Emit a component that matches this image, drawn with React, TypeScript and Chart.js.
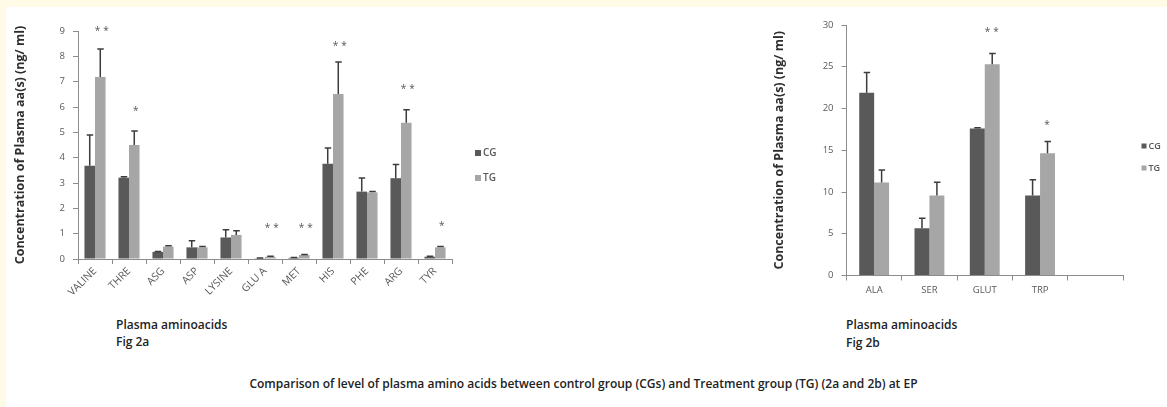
import React, { useEffect, useRef } from "react";
import { Chart, registerables } from "chart.js";

Chart.register(...registerables);

// ---------- DATA ----------
const seriesNames = ["CG", "TG"];

// Fig 2a
const leftCategories = ["VALINE", "THRE", "ASG", "ASP", "LYSINE", "GLU A", "MET", "HIS", "PHE", "ARG", "TYR"];
const leftCG = [3.68, 3.21, 0.28, 0.46, 0.85, 0.03, 0.05, 3.76, 2.66, 3.19, 0.09];
const leftCGsd = [1.21, 0.04, 0.02, 0.26, 0.3, 0.01, 0.01, 0.62, 0.54, 0.54, 0.02];
const leftTG = [7.18, 4.5, 0.49, 0.46, 0.95, 0.09, 0.16, 6.51, 2.63, 5.38, 0.46];
const leftTGsd = [1.11, 0.55, 0.03, 0.03, 0.17, 0.02, 0.02, 1.27, 0.03, 0.51, 0.03];
const leftStars = ["**", "*", "", "", "", "**", "**", "**", "", "**", "*"];
const leftStarLevels = [9.13, 5.95, null, null, null, 1.32, 1.32, 8.53, null, 6.84, 1.42];
const leftYMax = 9;
const leftYStep = 1;

// Fig 2b
const rightCategories = ["ALA", "SER", "GLUT", "TRP", ""];
const rightCG = [21.9, 5.66, 17.6, 9.57, null];
const rightCGsd = [2.4, 1.2, 0.1, 1.9, null];
const rightTG = [11.13, 9.57, 25.3, 14.64, null];
const rightTGsd = [1.5, 1.6, 1.3, 1.4, null];
const rightStars = ["", "", "**", "*", ""];
const rightStarLevels = [null, null, 29.5, 18.35, null];
const rightYMax = 30;
const rightYStep = 5;

const yTitle = "Concentration of Plasma aa(s) (ng/ ml)";
const xTitle = "Plasma aminoacids";
const leftFig = "Fig 2a";
const rightFig = "Fig 2b";
const caption =
  "Comparison of level of plasma amino acids between control group (CGs) and Treatment group (TG) (2a and 2b) at EP";

// ---------- STYLE ----------
const FONT = "'Open Sans', 'DejaVu Sans', sans-serif";
const CG_COLOR = "#595959";
const TG_COLOR = "#a6a6a6";
const AXIS_COLOR = "#8c8c8c";
const TEXT_COLOR = "#595959";

const errorBarsPlugin = {
  id: "errorBars",
  afterDatasetsDraw(chart: any) {
    const ctx = chart.ctx;
    const y = chart.scales.y;
    chart.data.datasets.forEach((ds: any, i: number) => {
      const meta = chart.getDatasetMeta(i);
      meta.data.forEach((el: any, j: number) => {
        const v = ds.data[j];
        const e = ds.errors ? ds.errors[j] : null;
        if (v == null || e == null) return;
        const yTop = y.getPixelForValue(v + e);
        const yBase = y.getPixelForValue(v);
        ctx.save();
        ctx.strokeStyle = "#3c3c3c";
        ctx.lineWidth = 1.5;
        ctx.beginPath();
        ctx.moveTo(el.x, yBase);
        ctx.lineTo(el.x, yTop);
        ctx.moveTo(el.x - 3, yTop);
        ctx.lineTo(el.x + 3.5, yTop);
        ctx.stroke();
        ctx.restore();
      });
    });
  },
};

const starsPlugin = {
  id: "stars",
  afterDatasetsDraw(chart: any, _args: any, opts: any) {
    const ctx = chart.ctx;
    const y = chart.scales.y;
    chart.data.datasets.forEach((ds: any, i: number) => {
      if (!ds.stars) return;
      const meta = chart.getDatasetMeta(i);
      meta.data.forEach((el: any, j: number) => {
        const s = ds.stars[j];
        const lvl = ds.starLevels[j];
        if (!s || lvl == null) return;
        ctx.save();
        ctx.fillStyle = "#555555";
        ctx.font = `10px ${FONT}`;
        (ctx as any).letterSpacing = "3px";
        ctx.textAlign = "center";
        ctx.textBaseline = "middle";
        ctx.fillText(s, el.x + (opts.dx || 0), y.getPixelForValue(lvl) + 3);
        ctx.restore();
      });
    });
  },
};

const boxLegendPlugin = {
  id: "boxLegend",
  afterDraw(chart: any, _args: any, opts: any) {
    const ctx = chart.ctx;
    chart.data.datasets.forEach((ds: any, i: number) => {
      const cy = opts.y + i * opts.gap;
      ctx.save();
      ctx.fillStyle = ds.backgroundColor;
      ctx.fillRect(opts.x, cy - opts.box / 2, opts.box, opts.box);
      ctx.fillStyle = TEXT_COLOR;
      ctx.font = `600 ${opts.size}px ${FONT}`;
      ctx.textAlign = "left";
      ctx.textBaseline = "middle";
      ctx.fillText(ds.label, opts.x + opts.box + 2, cy);
      ctx.restore();
    });
  },
};

function makeConfig(p: {
  labels: string[];
  cg: (number | null)[];
  cgSd: (number | null)[];
  tg: (number | null)[];
  tgSd: (number | null)[];
  stars: string[];
  starLevels: (number | null)[];
  yMax: number;
  yStep: number;
  catPct: number;
  padding: any;
  yWidth: number;
  xHeight: number;
  rotate: boolean;
  legend: any;
  starDx: number;
  titlePad: number;
}) {
  return {
    type: "bar",
    data: {
      labels: p.labels,
      datasets: [
        {
          label: seriesNames[0],
          data: p.cg,
          errors: p.cgSd,
          backgroundColor: CG_COLOR,
          barPercentage: 1,
          categoryPercentage: p.catPct,
        },
        {
          label: seriesNames[1],
          data: p.tg,
          errors: p.tgSd,
          stars: p.stars,
          starLevels: p.starLevels,
          backgroundColor: TG_COLOR,
          barPercentage: 1,
          categoryPercentage: p.catPct,
        },
      ],
    },
    options: {
      responsive: false,
      animation: false,
      events: [],
      layout: { padding: p.padding },
      plugins: {
        legend: { display: false },
        tooltip: { enabled: false },
        boxLegend: p.legend,
        stars: { dx: p.starDx },
      },
      scales: {
        x: {
          grid: {
            display: true,
            drawOnChartArea: false,
            drawTicks: true,
            tickLength: 5,
            color: AXIS_COLOR,
            offset: true,
          },
          border: { color: AXIS_COLOR, width: 1 },
          ticks: {
            color: TEXT_COLOR,
            font: { family: FONT, size: p.rotate ? 10.5 : 9.5 },
            maxRotation: p.rotate ? 45 : 0,
            minRotation: p.rotate ? 45 : 0,
            autoSkip: false,
            padding: p.rotate ? 1 : 4,
          },
          afterFit: (s: any) => {
            s.height = p.xHeight;
          },
        },
        y: {
          min: 0,
          max: p.yMax,
          grid: {
            display: true,
            drawOnChartArea: false,
            drawTicks: true,
            tickLength: 5,
            color: AXIS_COLOR,
          },
          border: { color: AXIS_COLOR, width: 1 },
          ticks: {
            stepSize: p.yStep,
            color: TEXT_COLOR,
            font: { family: FONT, size: 9.5 },
            padding: 8,
          },
          title: {
            display: true,
            text: yTitle,
            color: "#2e2e2e",
            font: { family: FONT, size: 12.5, weight: "bold" },
            padding: { top: p.titlePad, bottom: 0 },
          },
          afterFit: (s: any) => {
            s.width = p.yWidth;
          },
        },
      },
    },
    plugins: [errorBarsPlugin, starsPlugin, boxLegendPlugin],
  };
}

function BarChart(props: { config: any; width: number; height: number; style: any }) {
  const ref = useRef<HTMLCanvasElement | null>(null);
  useEffect(() => {
    if (!ref.current) return;
    const chart = new Chart(ref.current, props.config);
    return () => chart.destroy();
  }, []);
  return (
    <canvas
      ref={ref}
      width={props.width}
      height={props.height}
      style={{ position: "absolute", width: props.width, height: props.height, ...props.style }}
    />
  );
}

const labelStyle: any = {
  position: "absolute",
  fontFamily: FONT,
  fontWeight: 600,
  fontSize: 12,
  lineHeight: "16px",
  color: "#222",
  whiteSpace: "nowrap",
};

export default function App() {
  const leftConfig = makeConfig({
    labels: leftCategories,
    cg: leftCG,
    cgSd: leftCGsd,
    tg: leftTG,
    tgSd: leftTGsd,
    stars: leftStars,
    starLevels: leftStarLevels,
    yMax: leftYMax,
    yStep: leftYStep,
    catPct: 0.62,
    padding: { left: 0, top: 31, right: 530 - 452, bottom: 0 },
    yWidth: 78,
    xHeight: 300 - 259,
    rotate: true,
    legend: { x: 475, y: 153, gap: 25, box: 6, size: 10 },
    starDx: 3,
    titlePad: 13,
  });
  const rightConfig = makeConfig({
    labels: rightCategories,
    cg: rightCG,
    cgSd: rightCGsd,
    tg: rightTG,
    tgSd: rightTGsd,
    stars: rightStars,
    starLevels: rightStarLevels,
    yMax: rightYMax,
    yStep: rightYStep,
    catPct: 0.54,
    padding: { left: 0, top: 25, right: 407 - 363, bottom: 0 },
    yWidth: 86.5,
    xHeight: 300 - 275.5,
    rotate: false,
    legend: { x: 381.5, y: 146, gap: 22, box: 5, size: 9 },
    starDx: 1,
    titlePad: 12,
  });

  return (
    <div
      style={{
        position: "fixed",
        left: 0,
        top: 0,
        width: 1167,
        height: 407,
        background: "#fffbe6",
        overflow: "hidden",
      }}
    >
      <div style={{ position: "absolute", left: 6, top: 7, right: 0, bottom: 0, background: "#ffffff" }} />
      <BarChart config={leftConfig} width={530} height={300} style={{ left: 0, top: 0 }} />
      <BarChart config={rightConfig} width={407} height={300} style={{ left: 760, top: 0 }} />
      <div style={{ ...labelStyle, left: 116, top: 317 }}>{xTitle}</div>
      <div style={{ ...labelStyle, left: 116, top: 334 }}>{leftFig}</div>
      <div style={{ ...labelStyle, left: 846, top: 317 }}>{xTitle}</div>
      <div style={{ ...labelStyle, left: 846, top: 335 }}>{rightFig}</div>
      <div
        style={{
          ...labelStyle,
          left: 0,
          width: 1167,
          textAlign: "center",
          top: 376,
          fontSize: 12,
        }}
      >
        {caption}
      </div>
    </div>
  );
}
